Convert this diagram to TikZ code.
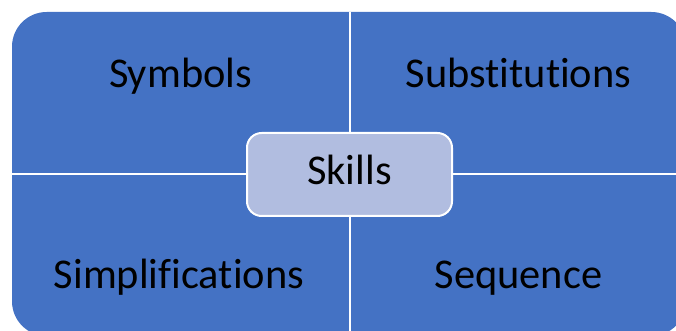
\documentclass[tikz,border=0pt]{standalone}
\usepackage{fontspec}
\setmainfont{Carlito}[Ligatures={NoCommon}]
\definecolor{quadblue}{HTML}{4472C4}
\definecolor{skillfill}{HTML}{B1BDE0}
\tikzset{
  quadlabel/.style={anchor=base, inner sep=0pt, text=black, font=\fontsize{31.8}{38}\selectfont},
  skillbox/.style={draw=white, line width=1.5pt, fill=skillfill, rounded corners=11pt,
    minimum width=153.75pt, minimum height=62.25pt, inner sep=0pt},
  divider/.style={draw=white, line width=1.5pt}
}
\begin{document}
\begin{tikzpicture}[x=0.75pt, y=-0.75pt]
  \useasboundingbox (0,0) rectangle (676,331);
  \begin{scope}
    \clip (0,0) rectangle (676,331);
    \fill[quadblue, rounded corners=26pt] (12,12) rectangle (686,336);
  \end{scope}
  \coordinate (top) at (349.5,12);
  \coordinate (bottom) at (349.5,331);
  \coordinate (left) at (12,174);
  \coordinate (right) at (676,174);
  \draw[divider] (top) -- (bottom) (left) -- (right);

  \node[quadlabel] (symbols) at (180.5,88) {Symbols};
  \node[quadlabel] (substitutions) at (518.5,88) {Substitutions};
  \node[quadlabel] (simplifications) at (179,289) {Simplifications};
  \node[quadlabel] (sequence) at (518.5,289) {Sequence};

  \node[skillbox] (skills) at (349.5,174.5) {};
  \node[quadlabel] (skillstext) at (349.5,185) {Skills};
\end{tikzpicture}
\end{document}
